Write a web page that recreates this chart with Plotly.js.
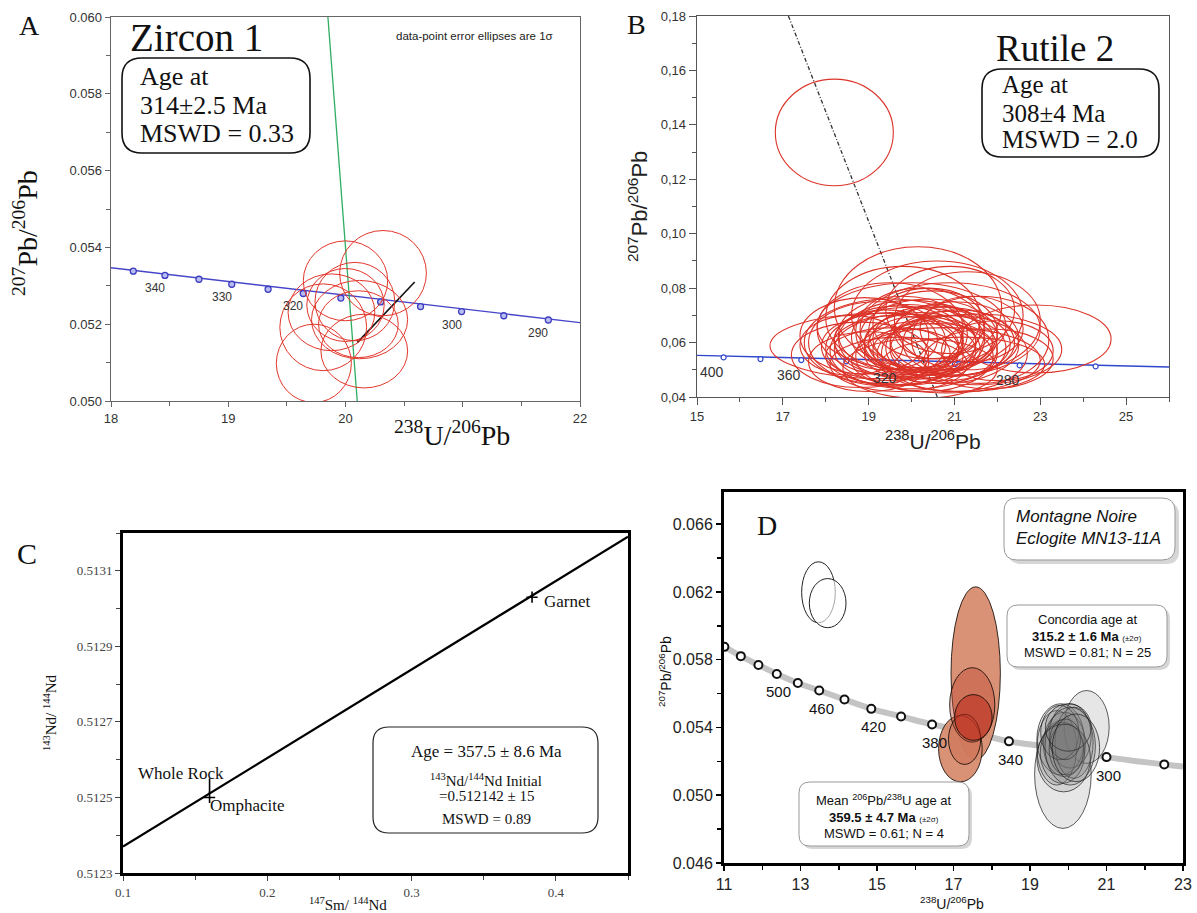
<!DOCTYPE html>
<html><head><meta charset="utf-8">
<script src="https://cdn.plot.ly/plotly-3.0.1.min.js"></script>
<style>body{margin:0;background:#fff}#chart{width:1197px;height:913px}</style>
</head><body><div id="chart"></div>
<script>
// ---------- Panel A : Zircon 1 ----------
const aConcordiaAge = [345,340,335,330,325,320,315,310,305,300,295,290];
const aConcordiaX = [18.19,18.46,18.75,19.03,19.34,19.64,19.96,20.30,20.64,20.99,21.35,21.73];
const aConcordiaY = [0.05338,0.05327,0.05317,0.05304,0.05291,0.05280,0.05268,0.05258,0.05246,0.05233,0.05222,0.05211];
const aConcordiaLineX = [18, 22];
const aConcordiaLineY = [0.05347, 0.05204];
const aLabelAges = [340,330,320,300,290];
const aEllipseCX = [19.73,20.16,20.32,20.00,19.88,20.08,20.12,19.81,20.00,20.11];
const aEllipseCY = [0.05098,0.05130,0.05333,0.05313,0.05231,0.05259,0.05212,0.05192,0.05250,0.05200];
const aEllipseRX = [0.32,0.37,0.37,0.36,0.37,0.34,0.41,0.37,0.33,0.34];
const aEllipseRY = [0.00102,0.00096,0.00111,0.00104,0.00100,0.00102,0.00102,0.00113,0.00095,0.00087];
const aDiscordX = [19.85, 20.10];
const aDiscordY = [0.060, 0.050];
const aRegressX = [20.10, 20.59];
const aRegressY = [0.05152, 0.05310];
const aXTicks = [18,19,20,21,22];
const aXTickText = ['18','19','20','','22'];
const aYTicks = [0.050,0.052,0.054,0.056,0.058,0.060];

// ---------- Panel B : Rutile 2 ----------
const bConcordiaAge = [400,380,360,340,320,300,280,260];
const bConcordiaX = [15.62,16.48,17.43,18.48,19.65,21.01,22.52,24.29];
const bConcordiaY = [0.05455,0.05394,0.05357,0.05308,0.05259,0.05210,0.05162,0.05125];
const bConcordiaLineX = [15, 26];
const bConcordiaLineY = [0.0553, 0.0510];
const bLabelAges = [400,360,320,280];
const bDiscordX = [17.13, 20.60];
const bDiscordY = [0.18, 0.04];
const bEllipseCX = [18.20,19.30,22.90,20.15,20.60,19.80,21.30,19.50,20.90,20.20,19.20,21.60,20.00,20.70,19.60,21.00,18.80,20.30,21.80,19.90,20.50,19.40,21.10,20.10,22.00,18.60,20.80,19.00,20.40,21.40,19.70,20.60,20.00,21.50,18.90,20.20,21.20,19.50,20.90,19.90,
                    19.70,20.40,20.80,19.90,20.20,19.50,21.00,20.60,19.80,20.30,20.00,20.90,19.60,20.50];
const bEllipseCY = [0.1372,0.0588,0.0613,0.0730,0.0700,0.0690,0.0680,0.0650,0.0650,0.0640,0.0600,0.0610,0.0580,0.0590,0.0570,0.0560,0.0555,0.0550,0.0540,0.0620,0.0615,0.0610,0.0600,0.0595,0.0570,0.0590,0.0535,0.0530,0.0670,0.0650,0.0520,0.0640,0.0660,0.0575,0.0625,0.0505,0.0520,0.0600,0.0720,0.0560,
                    0.0605,0.0620,0.0580,0.0575,0.0600,0.0585,0.0615,0.0560,0.0630,0.0570,0.0610,0.0595,0.0550,0.0640];
const bEllipseRX = [1.375,2.60,1.75,1.95,2.00,1.80,1.70,1.70,2.10,1.50,1.60,1.60,2.00,1.80,1.50,1.70,1.60,1.60,1.50,1.30,1.40,1.20,1.30,1.10,1.30,1.20,2.20,1.40,1.30,1.20,1.60,1.00,2.20,2.00,1.50,1.80,1.90,2.00,1.50,1.00,
                    1.50,1.60,1.40,1.70,1.30,1.60,1.50,1.40,1.50,1.20,1.70,1.40,1.60,1.50];
const bEllipseRY = [0.0196,0.0120,0.0125,0.0222,0.0200,0.0190,0.0180,0.0170,0.0170,0.0160,0.0150,0.0160,0.0150,0.0140,0.0130,0.0140,0.0120,0.0130,0.0110,0.0120,0.0120,0.0110,0.0120,0.0100,0.0110,0.0110,0.0120,0.0110,0.0130,0.0120,0.0100,0.0100,0.0160,0.0130,0.0140,0.0110,0.0100,0.0160,0.0160,0.0090,
                    0.0130,0.0140,0.0120,0.0130,0.0110,0.0125,0.0135,0.0110,0.0140,0.0100,0.0145,0.0120,0.0105,0.0150];
const bYTicks = [0.04,0.06,0.08,0.10,0.12,0.14,0.16,0.18];
const bYTickText = ['0,04','0,06','0,08','0,10','0,12','0,14','0,16','0,18'];

// ---------- Panel C : Sm-Nd isochron ----------
const cLineX = [0.1, 0.45];
const cLineY = [0.51237, 0.51319];
const cSampleNames = ['Whole Rock','Omphacite','Garnet'];
const cSampleX = [0.160, 0.160, 0.3835];
const cSampleY = [0.51253, 0.51250, 0.51303];
const cYTicks = [0.5123,0.5125,0.5127,0.5129,0.5131];

// ---------- Panel D : Montagne Noire eclogite ----------
const dConcordiaAge = [560,540,520,500,480,460,440,420,400,380,360,340,320,300,280];
const dConcordiaX = [11.01,11.44,11.90,12.38,12.93,13.49,14.15,14.85,15.63,16.44,17.40,18.45,19.65,21.00,22.51];
const dConcordiaY = [0.05876,0.05821,0.05769,0.05716,0.05663,0.05618,0.05565,0.05510,0.05465,0.05418,0.05375,0.05318,0.05280,0.05225,0.05182];
const dConcordiaEndX = 23;
const dConcordiaEndY = 0.0517;
const dLabelAges = [500,460,420,380,340,300];
// inherited (white) ellipses
const dWhiteCX = [13.47,13.71];
const dWhiteCY = [0.06198,0.06134];
const dWhiteRX = [0.44,0.48];
const dWhiteRY = [0.0018,0.00145];
// 206Pb/238U mean-age (orange) ellipses
const dOrangeCX = [17.58,17.18,17.49,17.29,17.52];
const dOrangeCY = [0.0572,0.05275,0.05533,0.0533,0.05459];
const dOrangeRX = [0.645,0.57,0.59,0.42,0.49];
const dOrangeRY = [0.0051,0.00196,0.0022,0.00148,0.00135];
const dOrangeFill = ['rgba(216,140,112,0.95)','rgba(216,140,112,0.95)','rgba(190,75,50,0.42)','rgba(190,75,50,0.28)','rgba(185,40,25,0.55)'];
// concordia-age (grey) ellipses
const dGreyCX = [19.86,20.48,19.80,19.90,19.70,20.05,19.85,20.15,19.78,19.95,20.05,19.92,19.88,20.00,20.20];
const dGreyCY = [0.05124,0.05403,0.0533,0.0530,0.0528,0.0535,0.0525,0.0531,0.0537,0.0527,0.0529,0.0533,0.0522,0.0540,0.0528];
const dGreyRX = [0.74,0.59,0.62,0.55,0.52,0.55,0.58,0.50,0.50,0.45,0.66,0.40,0.70,0.60,0.62];
const dGreyRY = [0.0032,0.00215,0.0021,0.0019,0.0022,0.0019,0.0018,0.0021,0.0016,0.0015,0.0023,0.0012,0.0020,0.0014,0.0020];
const dGreyFill = ['rgb(230,230,230)','rgb(230,230,230)','rgba(120,120,120,0.17)','rgba(120,120,120,0.17)','rgba(120,120,120,0.17)','rgba(120,120,120,0.17)','rgba(120,120,120,0.17)','rgba(120,120,120,0.17)','rgba(120,120,120,0.17)','rgba(120,120,120,0.17)','rgba(120,120,120,0.17)','rgba(120,120,120,0.17)','rgba(120,120,120,0.17)','rgba(120,120,120,0.17)','rgba(120,120,120,0.17)'];

// ---------- helpers ----------
const W = 1197, H = 913;
const PX = x => x / W;
const PY = y => 1 - y / H;
const SERIF = 'Liberation Serif, Times New Roman, serif';
const SANS = 'Liberation Sans, Arial, sans-serif';

function txt(text, x, y, size, family, extra) {
  return Object.assign({xref:'paper', yref:'paper', x:PX(x), y:PY(y), text:text, showarrow:false,
    font:{size:size, family:family, color:'#111'}, xanchor:'center', yanchor:'middle'}, extra || {});
}
function roundRect(x0,y0,x1,y1,r) {
  const pts = [['M',x0+r,y0],['L',x1-r,y0],['Q',x1,y0,x1,y0+r],['L',x1,y1-r],['Q',x1,y1,x1-r,y1],
               ['L',x0+r,y1],['Q',x0,y1,x0,y1-r],['L',x0,y0+r],['Q',x0,y0,x0+r,y0]];
  return pts.map(p => {
    let s = p[0];
    for (let i=1;i<p.length;i+=2) s += (i>1?' ':'') + PX(p[i]).toFixed(5) + ',' + PY(p[i+1]).toFixed(5);
    return s;
  }).join(' ') + ' Z';
}
function boxShape(x0,y0,x1,y1,r,color,width,fill) {
  return {type:'path', xref:'paper', yref:'paper', path:roundRect(x0,y0,x1,y1,r),
          line:{color:color, width:width}, fillcolor:fill || 'rgba(0,0,0,0)', layer:'above'};
}
function ellipse(ax, cx, cy, rx, ry, color, width, fill) {
  return {type:'circle', xref:ax[0], yref:ax[1], x0:cx-rx, x1:cx+rx, y0:cy-ry, y1:cy+ry,
          line:{color:color, width:width}, fillcolor:fill || 'rgba(0,0,0,0)', layer:'above'};
}

const traces = [];
const shapes = [];
const annotations = [];

// ---------- Panel A traces ----------
traces.push({x:aConcordiaLineX, y:aConcordiaLineY, xaxis:'x', yaxis:'y', mode:'lines', line:{color:'#4646c8', width:1.3}});
traces.push({x:aConcordiaX, y:aConcordiaY, xaxis:'x', yaxis:'y', mode:'markers',
  marker:{symbol:'circle', size:6, color:'#b8bcf0', line:{color:'#3c3cc0', width:1.3}}});
traces.push({x:aDiscordX, y:aDiscordY, xaxis:'x', yaxis:'y', mode:'lines', line:{color:'#2fae62', width:1.3}});
for (let i=0;i<aEllipseCX.length;i++) shapes.push(ellipse(['x','y'], aEllipseCX[i], aEllipseCY[i], aEllipseRX[i], aEllipseRY[i], '#e2362a', 1));
traces.push({x:aRegressX, y:aRegressY, xaxis:'x', yaxis:'y', mode:'lines', line:{color:'#111', width:1.6}});
aLabelAges.forEach(age => {
  const i = aConcordiaAge.indexOf(age);
  annotations.push({xref:'x', yref:'y', x:aConcordiaX[i], y:aConcordiaY[i], text:String(age), showarrow:false,
    xshift:-10, yshift:-13, font:{size:12, family:SANS, color:'#333'}});
});

// ---------- Panel B traces ----------
traces.push({x:bConcordiaLineX, y:bConcordiaLineY, xaxis:'x2', yaxis:'y2', mode:'lines', line:{color:'#3046cc', width:1.4}});
traces.push({x:bConcordiaX, y:bConcordiaY, xaxis:'x2', yaxis:'y2', mode:'markers',
  marker:{symbol:'circle', size:5, color:'#ffffff', line:{color:'#3046cc', width:1.2}}});
for (let i=0;i<bEllipseCX.length;i++) shapes.push(ellipse(['x2','y2'], bEllipseCX[i], bEllipseCY[i], bEllipseRX[i], bEllipseRY[i], '#dc3328', 1.1));
traces.push({x:bDiscordX, y:bDiscordY, xaxis:'x2', yaxis:'y2', mode:'lines', line:{color:'#333', width:1.3, dash:'4px,2px,1px,2px'}});
bLabelAges.forEach(age => {
  const i = bConcordiaAge.indexOf(age);
  annotations.push({xref:'x2', yref:'y2', x:bConcordiaX[i], y:bConcordiaY[i], text:String(age), showarrow:false,
    xshift:-12, yshift:-15, font:{size:14, family:SANS, color:'#333'}});
});

// ---------- Panel C traces ----------
traces.push({x:cLineX, y:cLineY, xaxis:'x3', yaxis:'y3', mode:'lines', line:{color:'#000', width:2.2}});
traces.push({x:[cSampleX[0]], y:[cSampleY[0]], xaxis:'x3', yaxis:'y3', mode:'markers',
  marker:{symbol:'line-ns', size:11, line:{color:'#000', width:1.6}}});
traces.push({x:[cSampleX[1], cSampleX[2]], y:[cSampleY[1], cSampleY[2]], xaxis:'x3', yaxis:'y3', mode:'markers',
  marker:{symbol:'cross-thin', size:8, line:{color:'#000', width:1.6}}});
annotations.push({xref:'x3', yref:'y3', x:0.1088, y:0.512563, text:cSampleNames[0], showarrow:false, xanchor:'left', yanchor:'middle', font:{size:17, family:SERIF, color:'#111'}});
annotations.push({xref:'x3', yref:'y3', x:0.1588, y:0.51248, text:cSampleNames[1], showarrow:false, xanchor:'left', yanchor:'middle', font:{size:17, family:SERIF, color:'#111'}});
annotations.push({xref:'x3', yref:'y3', x:0.3907, y:0.51302, text:cSampleNames[2], showarrow:false, xanchor:'left', yanchor:'middle', font:{size:17, family:SERIF, color:'#111'}});

// ---------- Panel D traces ----------
traces.push({x:dConcordiaX.concat([dConcordiaEndX]), y:dConcordiaY.concat([dConcordiaEndY]), xaxis:'x4', yaxis:'y4', mode:'lines',
  line:{color:'#c4c4c4', width:6, shape:'spline'}});
traces.push({x:dConcordiaX, y:dConcordiaY, xaxis:'x4', yaxis:'y4', mode:'markers',
  marker:{symbol:'circle', size:8, color:'#ffffff', line:{color:'#111', width:2}}});
for (let i=0;i<dWhiteCX.length;i++) shapes.push(ellipse(['x4','y4'], dWhiteCX[i], dWhiteCY[i], dWhiteRX[i], dWhiteRY[i], '#222', 1, 'rgba(255,255,255,0.6)'));
for (let i=0;i<dOrangeCX.length;i++) shapes.push(ellipse(['x4','y4'], dOrangeCX[i], dOrangeCY[i], dOrangeRX[i], dOrangeRY[i], 'rgba(20,10,5,0.85)', 1, dOrangeFill[i]));
for (let i=0;i<dGreyCX.length;i++) shapes.push(ellipse(['x4','y4'], dGreyCX[i], dGreyCY[i], dGreyRX[i], dGreyRY[i], 'rgba(25,25,25,0.7)', 1, dGreyFill[i]));
dLabelAges.forEach(age => {
  const i = dConcordiaAge.indexOf(age);
  annotations.push({xref:'x4', yref:'y4', x:dConcordiaX[i], y:dConcordiaY[i], text:String(age), showarrow:false,
    xshift:2, yshift:-18, font:{size:15, family:SANS, color:'#111'}});
});

// ---------- text, boxes ----------
// Panel A
annotations.push(txt('A', 29, 26, 28, SERIF));
annotations.push(txt('Zircon 1', 196, 38, 39, SERIF));
shapes.push(boxShape(122, 58, 310, 153, 20, '#111', 1.6));
annotations.push(txt('Age at', 138, 77, 26, SERIF, {xanchor:'left'}));
annotations.push(txt('314±2.5 Ma', 138, 105, 26, SERIF, {xanchor:'left'}));
annotations.push(txt('MSWD = 0.33', 138, 133, 26, SERIF, {xanchor:'left'}));
annotations.push(txt('data-point error ellipses are 1σ', 474, 36, 11.5, SANS, {font:{size:11.5, family:SANS, color:'#222'}}));
annotations.push(txt('<sup>238</sup>U/<sup>206</sup>Pb', 452, 433, 28, SERIF));
annotations.push(txt('<sup>207</sup>Pb/<sup>206</sup>Pb', 25, 233, 28, SERIF, {textangle:-90}));

// Panel B
annotations.push(txt('B', 636, 25, 28, SERIF));
annotations.push(txt('Rutile 2', 1055, 49, 37, SERIF));
shapes.push(boxShape(982, 69, 1159, 157, 20, '#111', 1.6));
annotations.push(txt('Age at', 1000, 85, 25, SERIF, {xanchor:'left'}));
annotations.push(txt('308±4 Ma', 1000, 113, 25, SERIF, {xanchor:'left'}));
annotations.push(txt('MSWD = 2.0', 1000, 140, 25, SERIF, {xanchor:'left'}));
annotations.push(txt('<sup>238</sup>U/<sup>206</sup>Pb', 933, 440, 21, SANS, {font:{size:21, family:SANS, color:'#222'}}));
annotations.push(txt('<sup>207</sup>Pb/<sup>206</sup>Pb', 638, 207, 22, SANS, {textangle:-90, font:{size:22, family:SANS, color:'#222'}}));

// Panel C
annotations.push(txt('C', 27, 553, 30, SERIF));
shapes.push(boxShape(373, 727, 598, 833, 16, '#222', 1.2));
annotations.push(txt('Age = 357.5 ± 8.6 Ma', 486, 751, 17, SERIF));
annotations.push(txt('<sup>143</sup>Nd/<sup>144</sup>Nd Initial', 486, 780, 15, SERIF));
annotations.push(txt('=0.512142 ± 15', 486, 796, 15, SERIF));
annotations.push(txt('MSWD = 0.89', 486, 819, 15, SERIF));
annotations.push(txt('<sup>147</sup>Sm/ <sup>144</sup>Nd', 348, 904, 15, SERIF));
annotations.push(txt('<sup>143</sup>Nd/ <sup>144</sup>Nd', 50, 713, 15, SERIF, {textangle:-90}));

// Panel D
annotations.push(txt('D', 767, 525, 28, SERIF));
shapes.push(boxShape(1008, 502, 1179, 564, 13, 'rgba(0,0,0,0)', 0, '#d6d6d6'));
shapes.push(boxShape(1004, 498, 1175, 560, 13, '#999', 1, '#ffffff'));
annotations.push(txt('<i>Montagne Noire</i>', 1014, 516, 17, SANS, {xanchor:'left'}));
annotations.push(txt('<i>Eclogite MN13-11A</i>', 1014, 538, 17, SANS, {xanchor:'left'}));
shapes.push(boxShape(1010, 608, 1170, 670, 11, 'rgba(0,0,0,0)', 0, '#d6d6d6'));
shapes.push(boxShape(1007, 605, 1167, 667, 11, '#999', 1, '#ffffff'));
annotations.push(txt('Concordia age at', 1087, 619, 13, SANS));
annotations.push(txt('<b>315.2 ± 1.6 Ma</b> <span style="font-size:8px">(±2σ)</span>', 1087, 636, 13, SANS));
annotations.push(txt('MSWD = 0.81; N = 25', 1087, 652, 13, SANS));
shapes.push(boxShape(802, 785, 972, 849, 11, 'rgba(0,0,0,0)', 0, '#d6d6d6'));
shapes.push(boxShape(799, 782, 969, 846, 11, '#999', 1, '#ffffff'));
annotations.push(txt('Mean <sup>206</sup>Pb/<sup>238</sup>U age at', 884, 800, 13, SANS));
annotations.push(txt('<b>359.5 ± 4.7 Ma</b> <span style="font-size:8px">(±2σ)</span>', 884, 817, 13, SANS));
annotations.push(txt('MSWD = 0.61; N = 4', 884, 833, 13, SANS));
annotations.push(txt('<sup>238</sup>U/<sup>206</sup>Pb', 952, 903, 14, SANS));
annotations.push(txt('<sup>207</sup>Pb/<sup>206</sup>Pb', 665, 672, 14, SANS, {textangle:-90}));

// ---------- axes ----------
const axBase = {showgrid:false, zeroline:false, mirror:true, showline:true, ticks:'outside', fixedrange:true};
const layout = {
  width:W, height:H, margin:{l:0,r:0,t:0,b:0}, showlegend:false, hovermode:false,
  paper_bgcolor:'#ffffff', plot_bgcolor:'#ffffff',
  xaxis: Object.assign({}, axBase, {domain:[PX(111),PX(580)], anchor:'y', range:[18,22], tickvals:aXTicks, ticktext:aXTickText,
    linecolor:'#666', linewidth:1.4, tickcolor:'#666', ticklen:5, tickfont:{size:13, family:SANS, color:'#333'},
    minor:{dtick:0.5, ticklen:4, tickcolor:'#666', ticks:'outside'}}),
  yaxis: Object.assign({}, axBase, {domain:[PY(401),PY(17)], anchor:'x', range:[0.050,0.060], tickvals:aYTicks, tickformat:'.3f',
    linecolor:'#666', linewidth:1.4, tickcolor:'#666', ticklen:5, tickfont:{size:13, family:SANS, color:'#333'},
    minor:{dtick:0.001, ticklen:4, tickcolor:'#666', ticks:'outside'}}),
  xaxis2: Object.assign({}, axBase, {domain:[PX(697),PX(1169)], anchor:'y2', range:[15,26], tick0:15, dtick:2,
    linecolor:'#555', linewidth:1.4, tickcolor:'#555', ticklen:7, tickfont:{size:13, family:SANS, color:'#333'},
    minor:{dtick:1, ticklen:4, tickcolor:'#555', ticks:'outside'}}),
  yaxis2: Object.assign({}, axBase, {domain:[PY(397),PY(16)], anchor:'x2', range:[0.04,0.18], tickvals:bYTicks, ticktext:bYTickText,
    linecolor:'#555', linewidth:1.4, tickcolor:'#555', ticklen:7, tickfont:{size:13, family:SANS, color:'#333'},
    minor:{dtick:0.01, ticklen:4, tickcolor:'#555', ticks:'outside'}}),
  xaxis3: Object.assign({}, axBase, {domain:[PX(123),PX(628)], anchor:'y3', range:[0.1,0.45], tick0:0.1, dtick:0.1, tickformat:'.1f',
    linecolor:'#000', linewidth:3, tickcolor:'#444', ticklen:5, tickfont:{size:13, family:SERIF, color:'#444'},
    minor:{dtick:0.05, ticklen:4, tickcolor:'#444', ticks:'outside'}}),
  yaxis3: Object.assign({}, axBase, {domain:[PY(873),PY(533)], anchor:'x3', range:[0.5123,0.5132], tickvals:cYTicks, tickformat:'.4f',
    linecolor:'#000', linewidth:3, tickcolor:'#444', ticklen:5, tickfont:{size:13, family:SERIF, color:'#444'},
    minor:{dtick:0.0001, ticklen:4, tickcolor:'#444', ticks:'outside'}}),
  xaxis4: Object.assign({}, axBase, {domain:[PX(724),PX(1183)], anchor:'y4', range:[11,23], tick0:11, dtick:2,
    linecolor:'#000', linewidth:3, tickcolor:'#000', ticklen:5, tickwidth:1.5, tickfont:{size:16, family:SANS, color:'#222'},
    minor:{dtick:1, ticklen:4, tickcolor:'#000', ticks:'outside'}}),
  yaxis4: Object.assign({}, axBase, {domain:[PY(863),PY(492)], anchor:'x4', range:[0.046,0.0679], tick0:0.046, dtick:0.004, tickformat:'.3f',
    linecolor:'#000', linewidth:3, tickcolor:'#000', ticklen:5, tickwidth:1.5, tickfont:{size:16, family:SANS, color:'#222'},
    minor:{dtick:0.002, ticklen:4, tickcolor:'#000', ticks:'outside'}}),
  shapes: shapes,
  annotations: annotations
};
traces.forEach(t => { t.showlegend = false; t.hoverinfo = 'skip'; t.cliponaxis = true; });
Plotly.newPlot('chart', traces, layout, {staticPlot:true, displayModeBar:false});
</script>
</body></html>
